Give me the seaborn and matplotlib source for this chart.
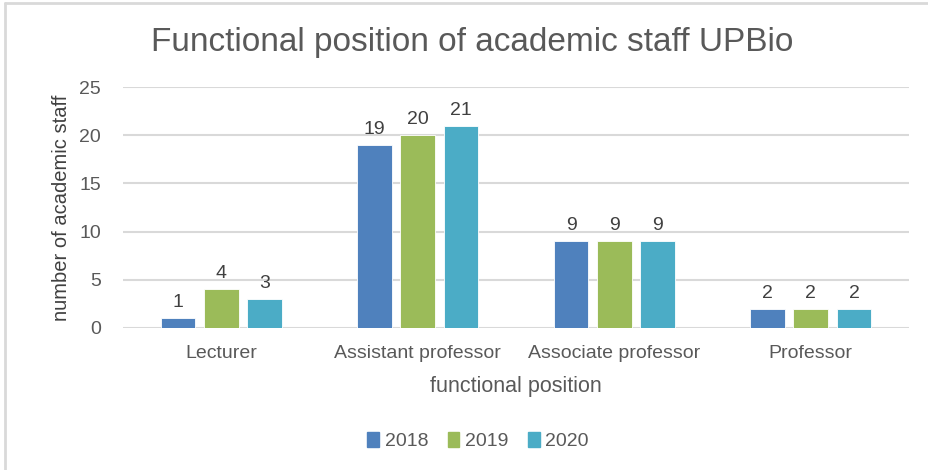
import matplotlib
matplotlib.use("Agg")
import matplotlib.pyplot as plt
import seaborn as sns
import pandas as pd
from matplotlib.lines import Line2D

categories = ["Lecturer", "Assistant professor", "Associate professor", "Professor"]
years = ["2018", "2019", "2020"]
values_2018 = [1, 19, 9, 2]
values_2019 = [4, 20, 9, 2]
values_2020 = [3, 21, 9, 2]
yticks = [0, 5, 10, 15, 20, 25]

colors = ["#4F81BD", "#9BBB59", "#4BACC6"]

rows = []
for yr, vals in zip(years, [values_2018, values_2019, values_2020]):
    for c, v in zip(categories, vals):
        rows.append({"position": c, "year": yr, "count": v})
df = pd.DataFrame(rows)

sns.set_theme(style="white")
plt.rcParams['font.family'] = ['Liberation Sans', 'DejaVu Sans']

fig = plt.figure(figsize=(9.29, 4.70), dpi=100)
ax = fig.add_axes([123/929, 1-328/470, (909-123)/929, (328-87)/470])

sns.barplot(data=df, x="position", y="count", hue="year", palette=colors,
            saturation=1, width=0.66, gap=0.2, ax=ax, edgecolor="white",
            linewidth=0.6, legend=True)

for cont in ax.containers:
    ax.bar_label(cont, padding=5, fontsize=14, color="#404040")

ax.set_ylim(0, 25)
ax.set_xlim(-0.5, 3.5)
ax.set_yticks(yticks)
ax.yaxis.grid(True, color="#D9D9D9", linewidth=1.5)
ax.set_axisbelow(True)
for s in ax.spines.values():
    s.set_visible(False)
ax.tick_params(axis="y", length=0, labelsize=14, labelcolor="#595959", pad=16)
ax.tick_params(axis="x", length=0, labelsize=14, labelcolor="#595959", pad=12)
ax.set_xlabel("functional position", fontsize=15.5, color="#595959", labelpad=10)
ax.set_ylabel("number of academic staff", fontsize=14.5, color="#404040", labelpad=6)

ax.legend_.remove()
handles = [plt.Rectangle((0, 0), 1, 1, color=c) for c in colors]
fig.legend(handles, years, loc="center", bbox_to_anchor=(478/929, 1-441/470),
           ncol=3, frameon=False, fontsize=14, handlelength=0.6, handleheight=0.8,
           handletextpad=0.3, columnspacing=1.0, labelcolor="#595959")

fig.text(472/929, 1-42/470, "Functional position of academic staff UPBio",
         ha="center", va="center", fontsize=24, color="#595959")

fig.add_artist(Line2D([5/929, 1], [1-3/470, 1-3/470], color="#D9D9D9", linewidth=2))
fig.add_artist(Line2D([5/929, 5/929], [0, 1-3/470], color="#D9D9D9", linewidth=2))

fig.savefig("out.png", dpi=100)
